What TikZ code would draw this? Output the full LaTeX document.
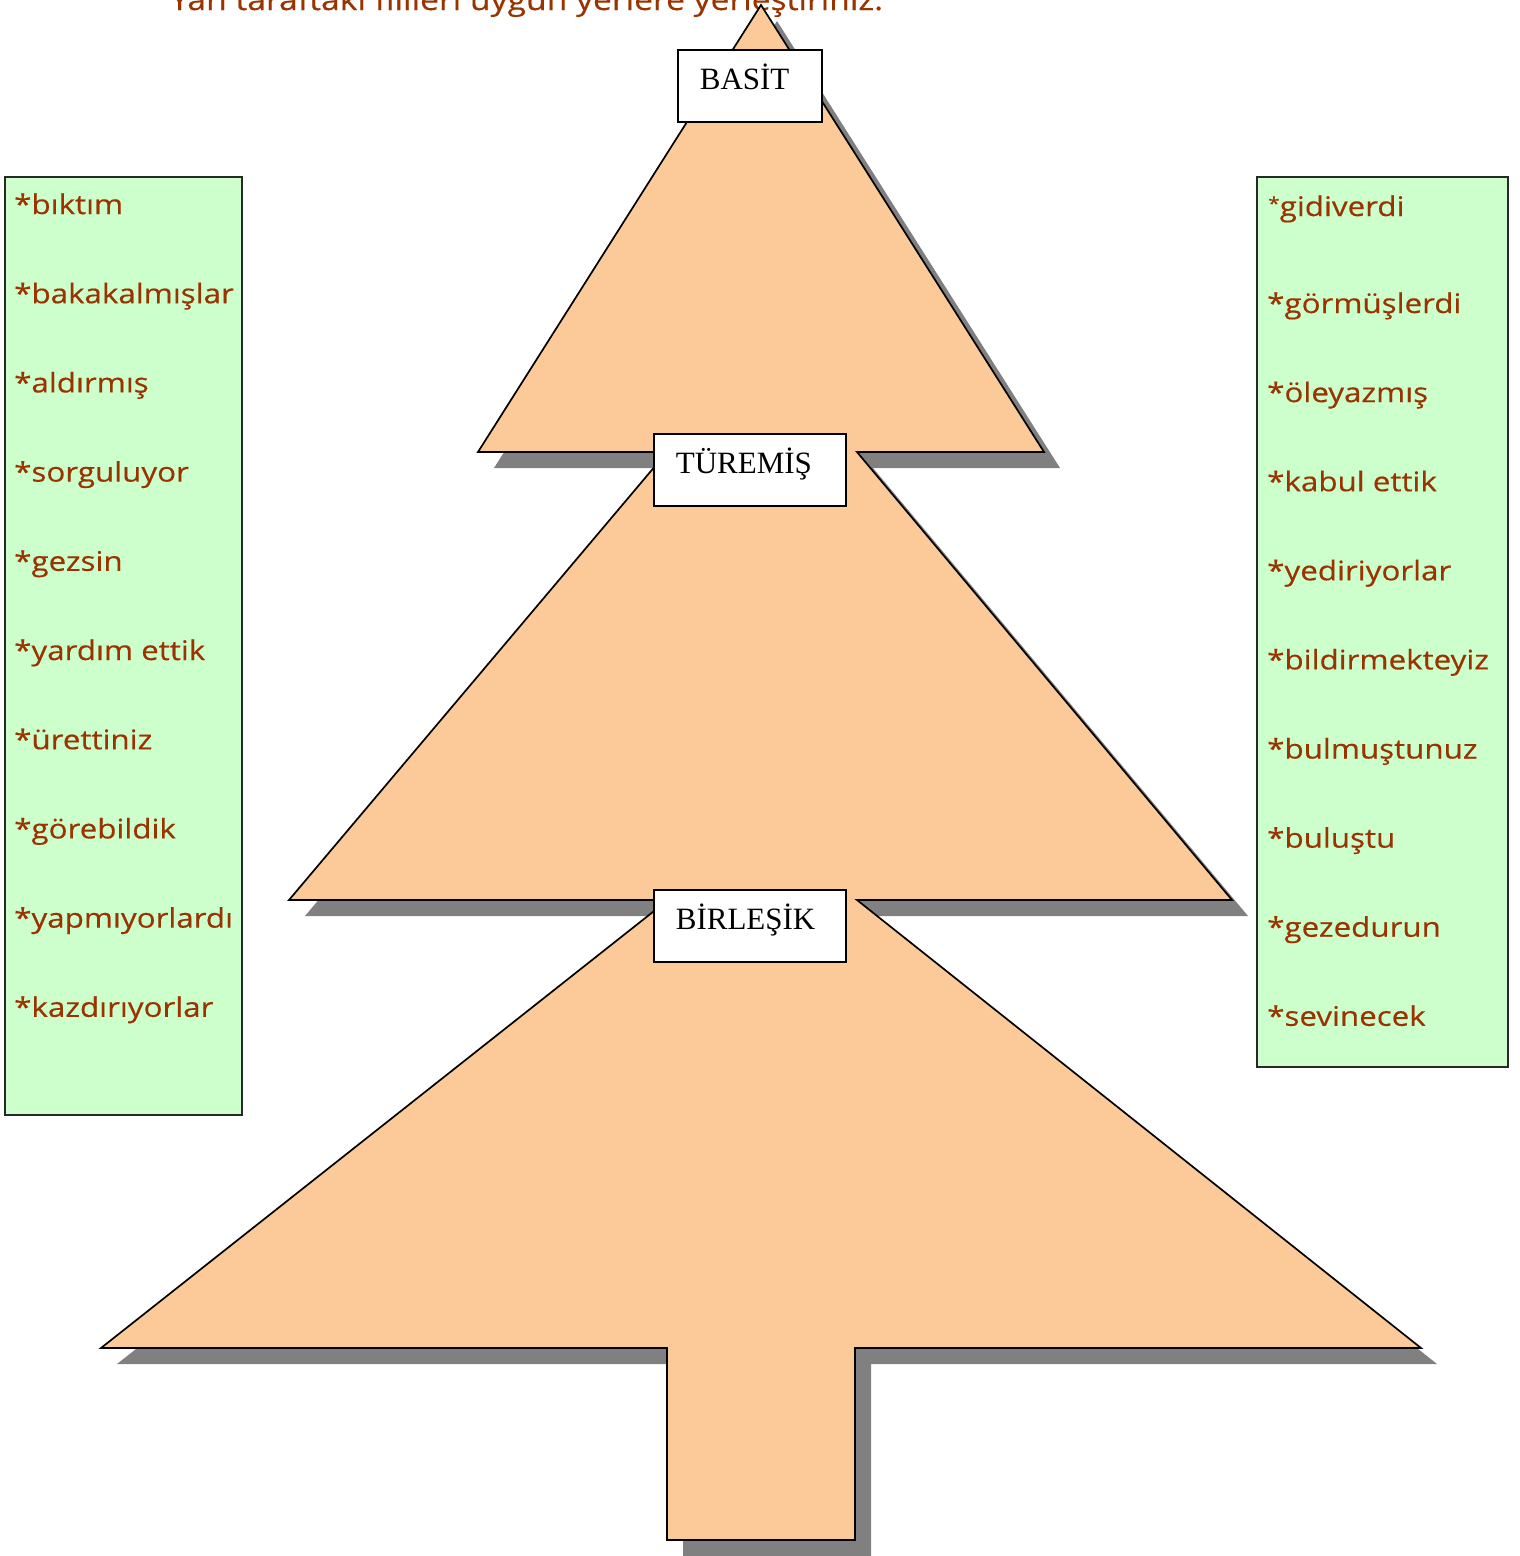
\documentclass[tikz,border=0pt]{standalone}
\usepackage{fontspec}
\setmainfont{Liberation Serif}
\newfontfamily\wordfont[FakeStretch=1.16,FakeBold=0.4]{Open Sans}
\definecolor{peach}{RGB}{252,201,152}
\definecolor{shadowgray}{RGB}{128,128,128}
\definecolor{wordgreen}{RGB}{204,255,204}
\definecolor{wordbrown}{RGB}{153,51,0}
\definecolor{boxborder}{RGB}{40,40,40}
\begin{document}
\begin{tikzpicture}[x=1pt,y=-1pt,
  treefill/.style={fill=peach, draw=black, line width=1.7pt, line join=miter},
  shadowfill/.style={fill=shadowgray},
  labelbox/.style={draw=black, fill=white, line width=1.7pt, anchor=north west,
    inner xsep=22pt, inner ysep=0pt, text height=40pt, text depth=32pt, align=left,
    font=\fontsize{31}{31}\selectfont},
  wordbox/.style={draw=boxborder, fill=wordgreen, line width=1.2pt},
  word/.style={anchor=base west, inner sep=0pt, text=wordbrown,
    font=\wordfont\fontsize{27}{27}\selectfont}]
\useasboundingbox (0,0) rectangle (1520,1556);
\clip (0,0) rectangle (1520,1556);
% title (cut at top, as in the reference)
\node[word, font=\wordfont\fontsize{29}{29}\selectfont] (title) at (170,10) {Yan taraftaki fiilleri uygun yerlere yerleştiriniz.};
% tree shadow
\fill[shadowfill, shift={(16,16)}] (761,5) -- (1044,452) -- (857,452) -- (1232,900) -- (857,900) -- (1421,1348) -- (855,1348) -- (855,1540) -- (667,1540) -- (667,1348) -- (101,1348) -- (668,900) -- (289,900) -- (667,452) -- (478,452) -- cycle;
% tree
\path[treefill] (761,5) -- (1044,452) -- (857,452) -- (1232,900) -- (857,900) -- (1421,1348) -- (855,1348) -- (855,1540) -- (667,1540) -- (667,1348) -- (101,1348) -- (668,900) -- (289,900) -- (667,452) -- (478,452) -- cycle;
% labels
\node[labelbox, text width=100pt] (basit) at (677,49) {BASİT};
\node[labelbox, text width=148pt] (turemis) at (653,433) {TÜREMİŞ};
\node[labelbox, text width=148pt] (birlesik) at (653,889) {BİRLEŞİK};
% word boxes
\draw[wordbox] (5,177) rectangle (242,1115);
\draw[wordbox] (1257,177) rectangle (1508,1067);
% left words
\foreach \w [count=\i] in {bıktım,bakakalmışlar,aldırmış,sorguluyor,gezsin,yardım ettik,ürettiniz,görebildik,yapmıyorlardı,kazdırıyorlar}{
  \node[word] (l\i) at (14,{214+(\i-1)*89.2}) {*\w};
}
% right words
\node[word] (r1) at (1268,216) {\raisebox{6pt}{\fontsize{18}{18}\selectfont *}gidiverdi};
\foreach \w [count=\i from 2] in {görmüşlerdi,öleyazmış,kabul ettik,yediriyorlar,bildirmekteyiz,bulmuştunuz,buluştu,gezedurun,sevinecek}{
  \node[word] (r\i) at (1267,{313+(\i-2)*89.1}) {*\w};
}
\end{tikzpicture}
\end{document}
